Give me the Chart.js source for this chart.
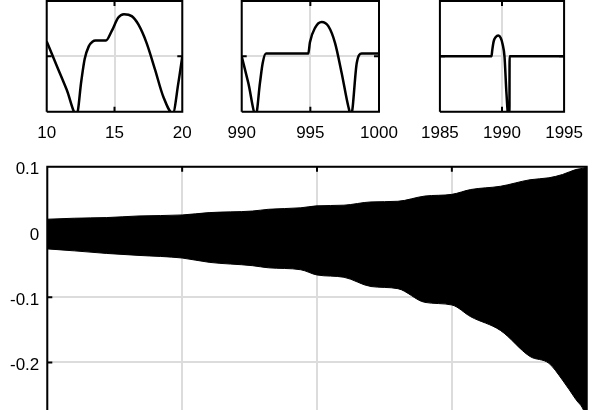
<!DOCTYPE html>
<html>
<head>
<meta charset="utf-8">
<script src="https://cdn.jsdelivr.net/npm/chart.js@4.4.0/dist/chart.umd.min.js"></script>
<style>
  html, body { margin: 0; padding: 0; background: #fff; overflow: hidden; }
  #fig { position: relative; width: 594px; height: 410px; }
  #fig canvas { position: absolute; }
</style>
</head>
<body>
<div id="fig">
  <canvas id="w1" width="210" height="145" style="left:0;top:0"></canvas>
  <canvas id="w2" width="200" height="145" style="left:210px;top:0"></canvas>
  <canvas id="w3" width="184" height="145" style="left:410px;top:0"></canvas>
  <canvas id="full" width="594" height="270" style="left:0;top:140px"></canvas>
</div>
<script>
// zoom windows (y normalised to the window's range, values below -1 get clipped)
const win1X = [10, 10.74, 11.47, 12.21, 12.55, 12.8, 13.1, 13.4, 13.6, 14.37, 14.79, 15.28, 15.7, 16.27, 16.76, 17.37, 17.99, 18.6, 19.3, 19.71, 20];
const win1Y = [0.27, -0.17, -0.6, -1.06, -0.45, -0.05, 0.18, 0.27, 0.285, 0.285, 0.455, 0.70, 0.76, 0.727, 0.576, 0.24, -0.24, -0.73, -1.03, -0.48, 0];

const win2X = [990, 990.48, 991.03, 991.33, 991.53, 991.77, 994.85, 994.97, 995.34, 995.83, 996.31, 996.8, 997.28, 997.77, 997.97, 998.38, 998.74, 1000];
const win2Y = [0, -0.48, -1.06, -0.48, -0.12, 0.05, 0.05, 0.255, 0.515, 0.62, 0.545, 0.24, -0.30, -0.91, -1.06, -0.12, 0.05, 0.05];

const win3X = [1985, 1989.15, 1989.22, 1989.33, 1989.5, 1989.7, 1989.9, 1990.05, 1990.2, 1990.36, 1990.5, 1990.6, 1990.61, 1995];
const win3Y = [0, 0, 0.12, 0.27, 0.35, 0.376, 0.33, 0.22, 0, -0.67, -1.06, -1.06, 0, 0];

const win1Ticks = [10, 15, 20];
const win2Ticks = [990, 995, 1000];
const win3Ticks = [1985, 1990, 1995];
const winYTicks = [-1, 0, 1];

// full record: envelope of the dense oscillation
const envX     = [0, 100, 220, 340, 500, 600, 760, 820, 940, 1000, 1100, 1200, 1300, 1400, 1500, 1570, 1680, 1790, 1860, 1910, 1960, 1990, 2000];
const envUpper = [0.0195, 0.021, 0.022, 0.0245, 0.026, 0.0296, 0.032, 0.0347, 0.037, 0.040, 0.041, 0.046, 0.047, 0.055, 0.0576, 0.065, 0.070, 0.080, 0.083, 0.088, 0.0957, 0.098, 0.100];
const envLower = [-0.026, -0.029, -0.033, -0.036, -0.040, -0.0466, -0.0517, -0.055, -0.058, -0.066, -0.0695, -0.0837, -0.087, -0.108, -0.112, -0.130, -0.151, -0.191, -0.2015, -0.227, -0.257, -0.275, -0.29];
const fullXTicks = [0, 500, 1000, 1500, 2000];
const fullYTicks = [-0.2, -0.1, 0, 0.1];

Chart.defaults.font.family = '"Liberation Sans", Arial, sans-serif';
Chart.defaults.font.size = 17;
Chart.defaults.color = '#000';

const GRID = '#dcdcdc';

// matlab-like box with inward ticks
const boxPlugin = {
  id: 'box',
  afterDatasetsDraw(chart, args, opts) {
    const { ctx, chartArea: a } = chart;
    const x = chart.scales.x, y = chart.scales.y;
    const tl = 5;
    ctx.save();
    ctx.strokeStyle = '#000';
    ctx.lineWidth = 2;
    ctx.beginPath();
    ctx.moveTo(a.left, a.bottom); ctx.lineTo(a.left, a.top);
    ctx.lineTo(a.right, a.top); ctx.lineTo(a.right, a.bottom);
    if (opts.bottom) ctx.lineTo(a.left, a.bottom);
    x.ticks.forEach(t => {
      const px = x.getPixelForValue(t.value);
      ctx.moveTo(px, a.top); ctx.lineTo(px, a.top + tl);
      if (opts.bottom) { ctx.moveTo(px, a.bottom); ctx.lineTo(px, a.bottom - tl); }
    });
    y.ticks.forEach(t => {
      const py = y.getPixelForValue(t.value);
      ctx.moveTo(a.left, py); ctx.lineTo(a.left + tl, py);
      ctx.moveTo(a.right, py); ctx.lineTo(a.right - tl, py);
    });
    ctx.stroke();
    ctx.restore();
  }
};

function toPoints(xs, ys) {
  return xs.map((x, i) => ({ x: x, y: ys[i] }));
}

function noPad(s) {
  s.paddingTop = 0; s.paddingBottom = 0; s.paddingLeft = 0; s.paddingRight = 0;
}

function windowChart(id, xs, ys, xTicks, pad) {
  return new Chart(document.getElementById(id), {
    type: 'line',
    data: {
      datasets: [{
        data: toPoints(xs, ys),
        borderColor: '#000',
        borderWidth: 2.5,
        pointRadius: 0,
        cubicInterpolationMode: 'monotone',
        clip: 0,
        fill: false
      }]
    },
    options: {
      responsive: false,
      animation: false,
      events: [],
      layout: { padding: pad },
      plugins: { legend: { display: false }, tooltip: { enabled: false }, box: { bottom: true } },
      scales: {
        x: {
          type: 'linear',
          min: xTicks[0],
          max: xTicks[xTicks.length - 1],
          afterBuildTicks: s => { s.ticks = xTicks.map(v => ({ value: v })); },
          afterFit: s => { s.height = 33.3; },
          grid: { color: GRID, lineWidth: 2, drawTicks: false },
          border: { display: false },
          ticks: { padding: 11, autoSkip: false, maxRotation: 0, callback: v => String(v) }
        },
        y: {
          min: -1,
          max: 1,
          afterBuildTicks: s => { s.ticks = winYTicks.map(v => ({ value: v })); },
          afterFit: s => { s.width = 0; noPad(s); },
          grid: { color: GRID, lineWidth: 2, drawTicks: false },
          border: { display: false },
          ticks: { display: false }
        }
      }
    },
    plugins: [boxPlugin]
  });
}

windowChart('w1', win1X, win1Y, win1Ticks, { left: 46.7, right: 27.7, top: 1, bottom: 0 });
windowChart('w2', win2X, win2Y, win2Ticks, { left: 31.7, right: 31, top: 1, bottom: 0 });
windowChart('w3', win3X, win3Y, win3Ticks, { left: 27.7, right: 20, top: 1, bottom: 0 });

new Chart(document.getElementById('full'), {
  type: 'line',
  data: {
    datasets: [
      {
        data: toPoints(envX, envUpper),
        borderColor: '#000',
        backgroundColor: '#000',
        borderWidth: 1,
        pointRadius: 0,
        cubicInterpolationMode: 'monotone',
        fill: '+1'
      },
      {
        data: toPoints(envX, envLower),
        borderColor: '#000',
        borderWidth: 1,
        pointRadius: 0,
        cubicInterpolationMode: 'monotone',
        fill: false
      }
    ]
  },
  options: {
    responsive: false,
    animation: false,
    events: [],
    layout: { padding: { left: 0, right: 7.3, top: 26.7, bottom: 0 } },
    plugins: { legend: { display: false }, tooltip: { enabled: false }, box: { bottom: false } },
    scales: {
      x: {
        type: 'linear',
        min: 0,
        max: 2000,
        afterBuildTicks: s => { s.ticks = fullXTicks.map(v => ({ value: v })); },
        afterFit: s => { s.height = 0; noPad(s); },
        grid: { color: GRID, lineWidth: 2, drawTicks: false },
        border: { display: false },
        ticks: { display: false }
      },
      y: {
        min: -0.273,
        max: 0.1,
        afterBuildTicks: s => { s.ticks = fullYTicks.map(v => ({ value: v })); },
        afterFit: s => { s.width = 47.3; noPad(s); },
        grid: { color: GRID, lineWidth: 2, drawTicks: false },
        border: { display: false },
        ticks: { padding: 8, labelOffset: 3, callback: v => String(v) }
      }
    }
  },
  plugins: [boxPlugin]
});
</script>
</body>
</html>
